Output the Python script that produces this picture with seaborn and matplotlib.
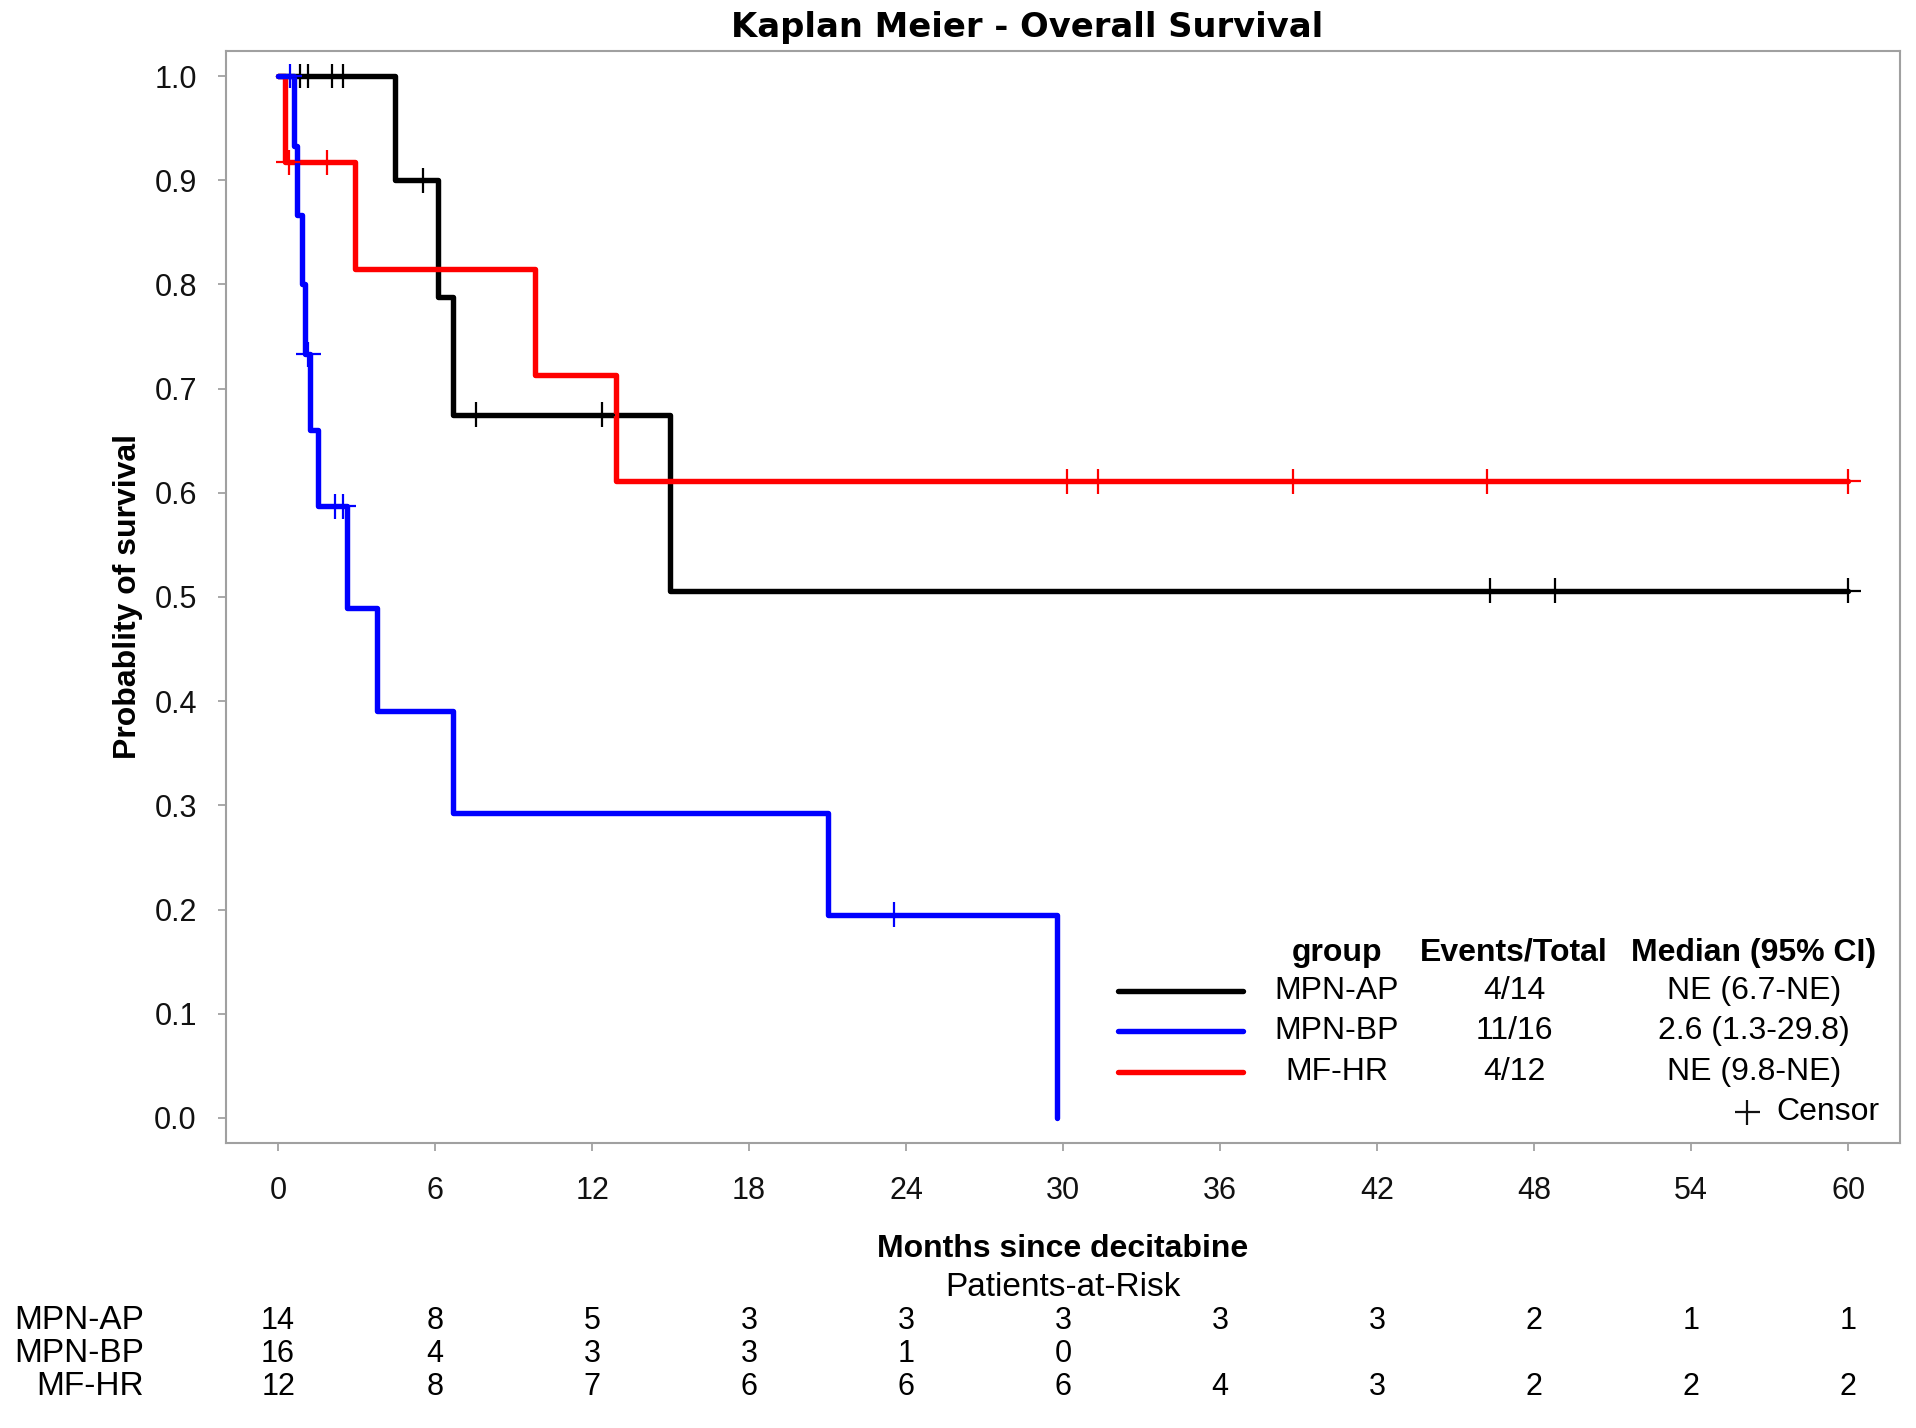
import numpy as np
import pandas as pd
import matplotlib
matplotlib.use('Agg')
import matplotlib.pyplot as plt
import matplotlib.transforms as mtransforms
from matplotlib.lines import Line2D
import seaborn as sns

# groups and colours
groups = ['MPN-AP', 'MPN-BP', 'MF-HR']
draw_order = ['MPN-AP', 'MF-HR', 'MPN-BP']
palette = {'MPN-AP': '#000000', 'MPN-BP': '#0000ff', 'MF-HR': '#ff0000'}

# KM step curves (months, survival)
ap_time = [0, 4.47, 6.12, 6.69, 14.96, 60.0]
ap_surv = [1.0, 0.900, 0.788, 0.675, 0.506, 0.506]
bp_time = [0, 0.60, 0.72, 0.90, 1.03, 1.22, 1.54, 2.62, 3.77, 6.69, 21.0, 29.78]
bp_surv = [1.0, 0.933, 0.867, 0.800, 0.733, 0.660, 0.587, 0.489, 0.391, 0.293, 0.195, 0.0]
hr_time = [0, 0.27, 2.94, 9.81, 12.93, 60.0]
hr_surv = [1.0, 0.917, 0.815, 0.713, 0.611, 0.611]

# censored observations
ap_cens_time = [0.84, 1.16, 2.05, 2.49, 5.55, 7.58, 12.39, 46.3, 48.8, 60.0]
ap_cens_surv = [1.0, 1.0, 1.0, 1.0, 0.900, 0.675, 0.675, 0.506, 0.506, 0.506]
bp_cens_time = [0.45, 1.15, 2.18, 2.49, 23.55]
bp_cens_surv = [1.0, 0.733, 0.587, 0.587, 0.195]
hr_cens_time = [0.40, 1.86, 30.14, 31.32, 38.78, 46.2, 60.0]
hr_cens_surv = [0.917, 0.917, 0.611, 0.611, 0.611, 0.611, 0.611]

# legend table
events_total = ['4/14', '11/16', '4/12']
median_ci = ['NE (6.7-NE)', '2.6 (1.3-29.8)', 'NE (9.8-NE)']

# patients at risk
risk_months = [0, 6, 12, 18, 24, 30, 36, 42, 48, 54, 60]
ap_risk = [14, 8, 5, 3, 3, 3, 3, 3, 2, 1, 1]
bp_risk = [16, 4, 3, 3, 1, 0]
hr_risk = [12, 8, 7, 6, 6, 6, 4, 3, 2, 2, 2]

curves = pd.concat([
    pd.DataFrame({'time': ap_time, 'surv': ap_surv, 'group': 'MPN-AP'}),
    pd.DataFrame({'time': bp_time, 'surv': bp_surv, 'group': 'MPN-BP'}),
    pd.DataFrame({'time': hr_time, 'surv': hr_surv, 'group': 'MF-HR'}),
], ignore_index=True)
cens = pd.concat([
    pd.DataFrame({'time': ap_cens_time, 'surv': ap_cens_surv, 'group': 'MPN-AP'}),
    pd.DataFrame({'time': bp_cens_time, 'surv': bp_cens_surv, 'group': 'MPN-BP'}),
    pd.DataFrame({'time': hr_cens_time, 'surv': hr_cens_surv, 'group': 'MF-HR'}),
], ignore_index=True)

sns.set_style('ticks')
plt.rcParams['font.family'] = ['Liberation Sans', 'DejaVu Sans']
plt.rcParams['text.color'] = 'black'
plt.rcParams['axes.labelcolor'] = 'black'

fig = plt.figure(figsize=(19.16, 14.28), dpi=100)
ax = fig.add_axes([0.11795, 0.19958, 0.87370, 0.76471])

sns.lineplot(data=curves, x='time', y='surv', hue='group', hue_order=draw_order,
             palette=palette, estimator=None, drawstyle='steps-post',
             linewidth=3.9, legend=False, ax=ax)
sns.scatterplot(data=cens, x='time', y='surv', hue='group', hue_order=draw_order,
                palette=palette, marker='+', s=320, linewidth=1.6,
                legend=False, ax=ax, zorder=5)

ax.set_xlim(-1.99, 61.98)
ax.set_ylim(-0.024, 1.024)
ax.set_xticks(risk_months)
ax.set_yticks(np.arange(0, 1.01, 0.1))
ax.set_yticklabels([f'{v:.1f}' for v in np.arange(0, 1.01, 0.1)])
ax.tick_params(axis='both', direction='out', length=6, width=1.2, color='#9a9a9a',
               labelsize=22, labelcolor='#111111')
ax.tick_params(axis='x', pad=18)
ax.tick_params(axis='y', pad=15)
for sp in ax.spines.values():
    sp.set_color('#a0a0a0')
    sp.set_linewidth(1.5)

ax.set_xlabel('Months since decitabine', fontsize=23, fontweight='bold', labelpad=20)
ax.set_ylabel('Probablity of survival', fontsize=23, fontweight='bold', labelpad=8)

fig.text(0.536, 0.981, 'Kaplan Meier - Overall Survival', family='DejaVu Sans',
         fontsize=24.3, fontweight='bold', ha='center', va='center')

# legend table inside the axes
hdr_y = 0.174
row_y = [0.139, 0.1026, 0.065]
col_group, col_events, col_median = 0.6637, 0.7694, 0.9128
ax.text(col_group, hdr_y, 'group', transform=ax.transAxes, ha='center', va='center',
        fontsize=23, fontweight='bold')
ax.text(col_events, hdr_y, 'Events/Total', transform=ax.transAxes, ha='center', va='center',
        fontsize=23, fontweight='bold')
ax.text(col_median, hdr_y, 'Median (95% CI)', transform=ax.transAxes, ha='center', va='center',
        fontsize=23, fontweight='bold')
for g, y, et, md in zip(groups, row_y, events_total, median_ci):
    ax.add_line(Line2D([0.533, 0.6075], [y, y], transform=ax.transAxes,
                       color=palette[g], linewidth=3.9))
    ax.text(col_group, y, g, transform=ax.transAxes, ha='center', va='center', fontsize=23)
    ax.text(col_events, y, et, transform=ax.transAxes, ha='center', va='center', fontsize=23)
    ax.text(col_median, y, md, transform=ax.transAxes, ha='center', va='center', fontsize=23)
ax.add_line(Line2D([0.9086], [0.0284], transform=ax.transAxes, marker='+',
                   markersize=18, markeredgewidth=1.6, color='#111111', linestyle='none'))
ax.text(0.988, 0.0284, 'Censor', transform=ax.transAxes, ha='right', va='center', fontsize=23)

# patients-at-risk table
fig.text(0.5 * (0.11795 * 2 + 0.87370), 0.0982, 'Patients-at-Risk', ha='center', va='center',
         fontsize=24)
trans = mtransforms.blended_transform_factory(ax.transData, fig.transFigure)
risk_rows = [ap_risk, bp_risk, hr_risk]
risk_y = [0.0751, 0.0520, 0.0289]
for g, row, y in zip(groups, risk_rows, risk_y):
    fig.text(0.0752, y, g, ha='right', va='center', fontsize=24)
    for m, n in zip(risk_months, row):
        ax.text(m, y, str(n), transform=trans, ha='center', va='center', fontsize=22,
                clip_on=False)

fig.savefig('out.png', dpi=100, facecolor='white')
